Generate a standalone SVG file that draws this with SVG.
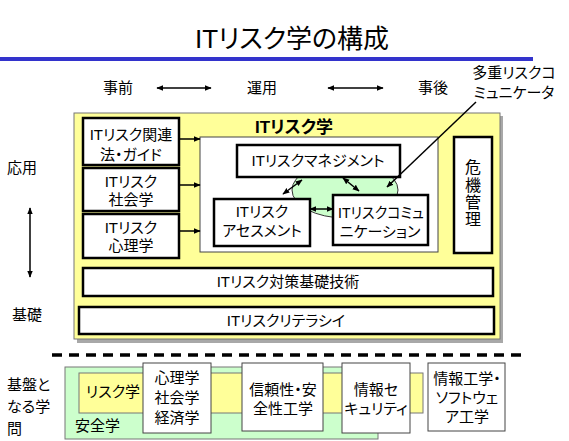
<svg xmlns="http://www.w3.org/2000/svg" width="569" height="441" viewBox="0 0 569 441">
<defs>
<style>
text{font-family:"Liberation Sans","Noto Sans CJK JP",sans-serif;font-size:15px;fill:#000;font-feature-settings:"palt";}
.c{text-anchor:middle;}
.box{fill:#fff;stroke:#000;stroke-width:2.5;}
.thin{fill:#fff;stroke:#444;stroke-width:1;}
.ln{stroke:#000;stroke-width:1.5;fill:none;}
</style>
<marker id="ah" viewBox="0 0 10 10" refX="9" refY="5" markerWidth="7" markerHeight="7" orient="auto-start-reverse" markerUnits="userSpaceOnUse">
<path d="M0,1 L10,5 L0,9 z" fill="#000"/>
</marker>
</defs>
<rect width="569" height="441" fill="#fff"/>
<g id="title">
<text x="292" y="48" class="c" style="font-size:26px">ITリスク学の構成</text>
<line x1="0" y1="59" x2="533" y2="59" stroke="#3333cc" stroke-width="4"/>
</g>
<g id="phases">
<text x="118" y="93" class="c">事前</text>
<text x="262" y="93" class="c">運用</text>
<text x="433" y="93" class="c">事後</text>
<text x="514" y="78" class="c">多重リスクコ</text>
<text x="514" y="98" class="c">ミュニケータ</text>
<text x="22" y="173" class="c">応用</text>
<text x="27" y="320" class="c">基礎</text>
<text x="7" y="390">基盤と</text>
<text x="7" y="412">なる学</text>
<text x="7" y="434">問</text>
</g>
<g id="itrisk">
<rect x="77" y="116" width="426" height="227" fill="#a8a8a8"/>
<rect x="74" y="113" width="426" height="226" fill="#ffff99" stroke="#777" stroke-width="1"/>
<text x="294" y="133" class="c" style="font-size:17px;font-weight:bold">ITリスク学</text>
</g>
<g id="inner">
<rect x="200" y="137" width="238" height="115" class="thin"/>
<ellipse cx="345" cy="190" rx="53" ry="28" fill="#ccffcc" stroke="#333" stroke-width="1"/>
</g>
<g id="law">
<rect x="83" y="118" width="96" height="47" class="box"/>
<text x="131" y="140" class="c">ITリスク関連</text>
<text x="131" y="160" class="c">法・ガイド</text>
</g>
<g id="social">
<rect x="83" y="168" width="96" height="43" class="box"/>
<text x="131" y="187" class="c">ITリスク</text>
<text x="131" y="205" class="c">社会学</text>
</g>
<g id="psych">
<rect x="83" y="214" width="96" height="44" class="box"/>
<text x="131" y="233" class="c">ITリスク</text>
<text x="131" y="251" class="c">心理学</text>
</g>
<g id="mgmt">
<rect x="237" y="145" width="163" height="32" class="box"/>
<text x="318" y="166" class="c">ITリスクマネジメント</text>
</g>
<g id="assess">
<rect x="214" y="199" width="96" height="47" class="box"/>
<text x="262" y="217" class="c">ITリスク</text>
<text x="262" y="236" class="c">アセスメント</text>
</g>
<g id="comm">
<rect x="333" y="195" width="95" height="50" class="box"/>
<text x="381" y="218" class="c" textLength="86" lengthAdjust="spacingAndGlyphs">ITリスクコミュ</text>
<text x="380" y="237" class="c">ニケーション</text>
</g>
<g id="crisis">
<rect x="454" y="137" width="38" height="116" class="box"/>
<text x="473" y="173" class="c" style="font-size:16px">危</text>
<text x="473" y="191" class="c" style="font-size:16px">機</text>
<text x="473" y="208" class="c" style="font-size:16px">管</text>
<text x="473" y="225" class="c" style="font-size:16px">理</text>
</g>
<g id="basetech">
<rect x="83" y="268" width="410" height="28" class="box"/>
<text x="288" y="287" class="c">ITリスク対策基礎技術</text>
</g>
<g id="literacy">
<rect x="79" y="307" width="415" height="27" class="box"/>
<text x="286" y="326" class="c">ITリスクリテラシイ</text>
</g>
<g id="foundation">
<line x1="52" y1="355" x2="528" y2="355" stroke="#000" stroke-width="3.5" stroke-dasharray="10,7"/>
<rect x="65" y="367" width="313" height="72" fill="#ccffcc" stroke="#777" stroke-width="1"/>
<rect x="79" y="373" width="344" height="40" fill="#ffff99" stroke="#777" stroke-width="1"/>
<text x="113" y="397" class="c">リスク学</text>
<text x="75" y="431">安全学</text>
</g>
<g id="b-psych">
<rect x="143" y="363" width="68" height="70" class="thin"/>
<text x="177" y="383" class="c">心理学</text>
<text x="177" y="403" class="c">社会学</text>
<text x="177" y="423" class="c">経済学</text>
</g>
<g id="b-reliab">
<rect x="242" y="363" width="81" height="68" class="thin"/>
<text x="283" y="395" class="c">信頼性・安</text>
<text x="283" y="414" class="c">全性工学</text>
</g>
<g id="b-sec">
<rect x="342" y="363" width="68" height="70" class="thin"/>
<text x="376" y="395" class="c">情報セ</text>
<text x="376" y="414" class="c">キュリティ</text>
</g>
<g id="b-info">
<rect x="428" y="363" width="77" height="68" class="thin"/>
<text x="467" y="384" class="c">情報工学・</text>
<text x="467" y="403" class="c">ソフトウェ</text>
<text x="467" y="422" class="c">ア工学</text>
</g>
<g id="connectors">
<line x1="157" y1="88" x2="211" y2="88" class="ln" marker-start="url(#ah)" marker-end="url(#ah)"/>
<line x1="328" y1="88" x2="383" y2="88" class="ln" marker-start="url(#ah)" marker-end="url(#ah)"/>
<line x1="30" y1="208" x2="30" y2="277" class="ln" marker-start="url(#ah)" marker-end="url(#ah)"/>
<line x1="179" y1="139" x2="200" y2="139" class="ln" stroke-width="1.2" marker-end="url(#ah)"/>
<line x1="179" y1="185" x2="200" y2="185" class="ln" stroke-width="1.2" marker-end="url(#ah)"/>
<line x1="179" y1="231" x2="200" y2="231" class="ln" stroke-width="1.2" marker-end="url(#ah)"/>
<line x1="302" y1="180" x2="283" y2="194" class="ln" stroke-width="1.2" marker-start="url(#ah)" marker-end="url(#ah)"/>
<line x1="343" y1="178" x2="359" y2="191" class="ln" stroke-width="1.2" marker-start="url(#ah)" marker-end="url(#ah)"/>
<line x1="310" y1="209" x2="333" y2="209" class="ln" stroke-width="1.2" marker-start="url(#ah)" marker-end="url(#ah)"/>
<line x1="476" y1="102" x2="387" y2="187" class="ln" stroke-width="1.2" marker-end="url(#ah)"/>
</g>
</svg>
